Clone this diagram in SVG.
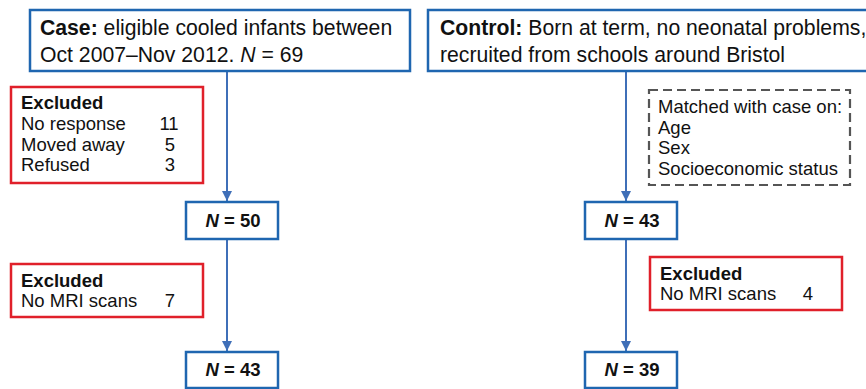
<svg xmlns="http://www.w3.org/2000/svg" width="866" height="389" viewBox="0 0 866 389">
<defs>
<style>
text{font-family:"Liberation Sans",Arial,Helvetica,sans-serif;fill:#111;}
.main{font-size:21.2px;}
.sm{font-size:18.5px;}
.b{font-weight:bold;}
.n{font-size:18.5px;font-weight:bold;text-anchor:middle;}
.blue{fill:#fff;stroke:#1f66b0;stroke-width:2.5;}
.red{fill:#fff;stroke:#e0202a;stroke-width:2.5;}
.dash{fill:#fff;stroke:#555;stroke-width:2.2;stroke-dasharray:9 5;}
.conn{stroke:#3f6fb8;stroke-width:2;fill:none;marker-end:url(#arr);}
.mid{text-anchor:middle;}
</style>
<marker id="arr" viewBox="0 0 10 10" refX="10" refY="5" markerWidth="5" markerHeight="5" orient="auto" markerUnits="strokeWidth">
<path d="M0,0 L10,5 L0,10 z" fill="#3f6fb8"/>
</marker>
</defs>
<g id="connectors">
<line class="conn" x1="227" y1="71" x2="227" y2="201"/>
<line class="conn" x1="227" y1="239" x2="227" y2="351"/>
<line class="conn" x1="626" y1="71" x2="626" y2="201"/>
<line class="conn" x1="626" y1="239" x2="626" y2="351"/>
</g>
<g id="case">
<rect class="blue" x="30" y="10" width="380" height="61"/>
<text class="main" x="40" y="35"><tspan class="b">Case:</tspan> eligible cooled infants between</text>
<text class="main" x="40" y="62">Oct 2007–Nov 2012. <tspan font-style="italic">N</tspan> = 69</text>
</g>
<g id="control">
<rect class="blue" x="428" y="10" width="450" height="61"/>
<text class="main" x="440" y="35"><tspan class="b">Control:</tspan> Born at term, no neonatal problems,</text>
<text class="main" x="440" y="62">recruited from schools around Bristol</text>
</g>
<g id="excluded1">
<rect class="red" x="11" y="87" width="192" height="96"/>
<text class="sm b" x="21" y="109">Excluded</text>
<text class="sm" x="21" y="130">No response</text>
<text class="sm" x="21" y="150.5">Moved away</text>
<text class="sm" x="21" y="171">Refused</text>
<text class="sm mid" x="169" y="130">11</text>
<text class="sm mid" x="170" y="150.5">5</text>
<text class="sm mid" x="170" y="171">3</text>
</g>
<g id="matched">
<rect class="dash" x="649" y="90" width="201" height="95"/>
<text class="sm" x="658" y="113">Matched with case on:</text>
<text class="sm" x="658" y="133.5">Age</text>
<text class="sm" x="658" y="154">Sex</text>
<text class="sm" x="658" y="175">Socioeconomic status</text>
</g>
<g id="case-n50">
<rect class="blue" x="186" y="202" width="92" height="37"/>
<text class="n" x="233" y="226.5"><tspan font-style="italic">N</tspan> = 50</text>
</g>
<g id="control-n43">
<rect class="blue" x="585" y="202" width="92" height="37"/>
<text class="n" x="632" y="226.5"><tspan font-style="italic">N</tspan> = 43</text>
</g>
<g id="excluded2">
<rect class="red" x="11" y="264" width="192" height="53"/>
<text class="sm b" x="21" y="287">Excluded</text>
<text class="sm" x="21" y="307">No MRI scans</text>
<text class="sm mid" x="170" y="307">7</text>
</g>
<g id="excluded3">
<rect class="red" x="650" y="257" width="192" height="53"/>
<text class="sm b" x="660" y="280">Excluded</text>
<text class="sm" x="660" y="300">No MRI scans</text>
<text class="sm mid" x="808" y="300">4</text>
</g>
<g id="case-n43">
<rect class="blue" x="186" y="352" width="92" height="36"/>
<text class="n" x="233" y="376"><tspan font-style="italic">N</tspan> = 43</text>
</g>
<g id="control-n39">
<rect class="blue" x="585" y="352" width="92" height="36"/>
<text class="n" x="632" y="376"><tspan font-style="italic">N</tspan> = 39</text>
</g>
</svg>
